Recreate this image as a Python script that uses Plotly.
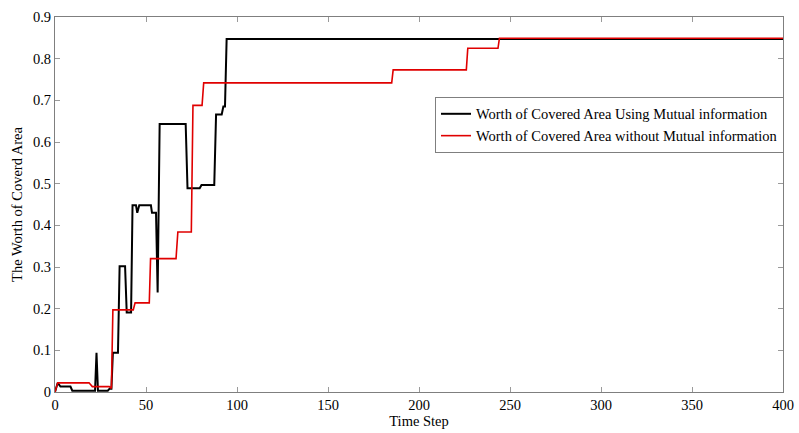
import plotly.graph_objects as go

# Black series: Worth of Covered Area Using Mutual information
t_mi = [0, 1.5, 3, 8.5, 9.5, 22, 22.8, 23.6, 29, 30, 31, 31.8, 34.6, 35.5, 38.5, 39.4,
        41.8, 42.6, 44.5, 45.2, 46.3, 52.7, 53.3, 55.5, 56.4, 57.5, 71.8, 72.8, 79.5,
        80.5, 87.5, 88.5, 91.6, 92.5, 93.4, 94.3, 400]
v_mi = [0, 0.022, 0.013, 0.013, 0.003, 0.003, 0.094, 0.003, 0.003, 0.008, 0.008, 0.094,
        0.094, 0.302, 0.302, 0.191, 0.191, 0.448, 0.448, 0.43, 0.448, 0.448, 0.43, 0.43,
        0.239, 0.643, 0.643, 0.489, 0.489, 0.497, 0.497, 0.666, 0.666, 0.685, 0.685,
        0.847, 0.847]

# Red series: Worth of Covered Area without Mutual information
t_nomi = [0, 1.5, 18.7, 20.5, 29.8, 30.5, 31, 31.8, 43, 44, 51.8, 52.5, 66.5, 67.5,
          74.9, 75.8, 80.8, 81.7, 185, 185.8, 226, 226.8, 243.4, 244.2, 400]
v_nomi = [0, 0.022, 0.022, 0.013, 0.013, 0.009, 0.009, 0.197, 0.197, 0.214, 0.214,
          0.32, 0.32, 0.384, 0.384, 0.688, 0.688, 0.742, 0.742, 0.773, 0.773, 0.825,
          0.825, 0.849, 0.849]

x_ticks = [0, 50, 100, 150, 200, 250, 300, 350, 400]
x_labels = ["0", "50", "100", "150", "200", "250", "300", "350", "400"]
y_ticks = [0, 0.1, 0.2, 0.3, 0.4, 0.5, 0.6, 0.7, 0.8, 0.9]
y_labels = ["0", "0.1", "0.2", "0.3", "0.4", "0.5", "0.6", "0.7", "0.8", "0.9"]

font_family = "Liberation Serif, Times New Roman, serif"

fig = go.Figure()
fig.add_trace(go.Scatter(x=t_mi, y=v_mi, mode="lines",
                         name="Worth of Covered Area Using Mutual information",
                         line=dict(color="black", width=2)))
fig.add_trace(go.Scatter(x=t_nomi, y=v_nomi, mode="lines",
                         name="Worth of Covered Area without Mutual information",
                         line=dict(color="#e00000", width=1.6)))

axis_common = dict(showgrid=False, zeroline=False, showline=True, linecolor="#7f7f7f",
                   linewidth=1, mirror="ticks", ticks="inside", ticklen=5,
                   tickcolor="#9a9a9a", automargin=False,
                   tickfont=dict(family=font_family, size=14.5, color="black"))

fig.update_layout(
    width=799, height=433,
    margin=dict(l=55, r=16, t=17, b=41),
    paper_bgcolor="white", plot_bgcolor="white",
    font=dict(family=font_family, size=14, color="black"),
    xaxis=dict(range=[0, 400], tickvals=x_ticks, ticktext=x_labels,
               title=dict(text="Time Step", standoff=2,
                          font=dict(family=font_family, size=14.5)),
               **axis_common),
    yaxis=dict(range=[0, 0.9], tickvals=y_ticks, ticktext=y_labels,
               title=dict(text="The Worth of Coverd Area", standoff=6,
                          font=dict(family=font_family, size=14.5)),
               **axis_common),
    legend=dict(x=0.522, y=0.787, xanchor="left", yanchor="top",
                bordercolor="#7f7f7f", borderwidth=1, bgcolor="white",
                font=dict(family=font_family, size=14.5), tracegroupgap=0,
                itemwidth=30),
    showlegend=True,
)

fig.write_html("out.html")
